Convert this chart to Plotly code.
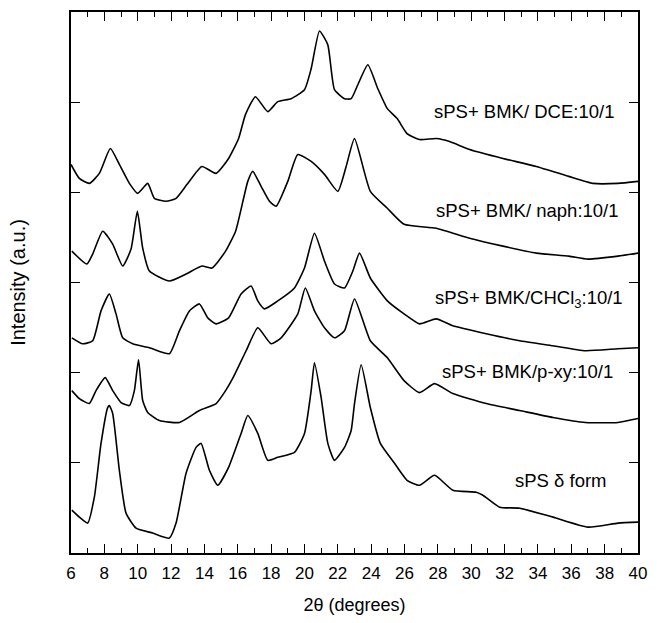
import plotly.graph_objects as go

# 2-theta positions and intensities (a.u., curves already offset vertically)
x_dce = [6.0, 6.5, 7.1, 7.7, 8.36, 8.9, 9.5, 10.0, 10.6, 11.0, 11.7, 12.3, 12.96, 13.85, 14.7,
         15.45, 16.05, 16.46, 17.06, 17.8, 18.4, 19.2, 20.0, 20.4, 20.9, 21.4, 21.8, 22.4, 22.8,
         23.2, 23.8, 24.4, 24.97, 25.56, 26.15, 26.9, 27.9, 28.7, 29.9, 31.9, 33.9, 35.85, 37.3,
         38.8, 40.0]
y_dce = [390, 376, 371, 381, 406, 390, 371, 361, 371, 356, 353, 356, 370, 388, 381,
         396, 416, 440, 458, 443, 453, 456, 465, 486, 524, 510, 465, 456, 456,
         470, 490, 466, 446, 436, 421, 415, 416, 413, 405, 396, 388, 378, 371,
         371, 373]

x_naph = [6.05, 6.95, 7.3, 7.9, 8.5, 9.1, 9.6, 9.98, 10.3, 10.7, 11.9, 12.9, 13.85, 14.45,
          15.27, 15.87, 16.35, 16.6, 16.9, 17.4, 17.9, 18.3, 19.0, 19.6, 20.4, 21.2, 22.0,
          22.5, 23.0, 23.95, 24.97, 25.97, 27.9, 29.9, 31.9, 33.9, 35.85, 37.0, 38.8, 40.0]
y_naph = [303, 290, 300, 323, 310, 288, 305, 343, 306, 283, 273, 280, 288, 286,
          303, 323, 356, 373, 383, 368, 353, 348, 373, 400, 393, 380, 363,
          388, 416, 363, 346, 330, 326, 316, 308, 301, 298, 295, 298, 301]

x_chcl3 = [6.05, 6.7, 7.3, 7.8, 8.3, 8.7, 9.1, 9.7, 10.7, 11.9, 12.5, 13.1, 13.7, 14.2, 14.7,
           15.45, 16.2, 16.8, 17.2, 17.6, 18.4, 19.4, 20.0, 20.6, 21.2, 21.8, 22.4, 22.9, 23.3,
           23.95, 24.97, 25.97, 26.9, 27.9, 28.9, 30.9, 32.9, 34.9, 36.85, 38.8, 40.0]
y_chcl3 = [216, 210, 213, 243, 260, 240, 216, 210, 206, 200, 223, 243, 250, 236, 230,
           236, 260, 268, 253, 245, 253, 266, 286, 321, 293, 270, 266, 283, 301,
           276, 253, 240, 230, 235, 228, 220, 213, 208, 203, 205, 206]

x_pxy = [6.05, 6.5, 7.1, 7.5, 8.05, 8.5, 9.0, 9.5, 9.8, 10.05, 10.3, 10.6, 11.3, 12.5, 13.7,
         14.7, 15.27, 15.75, 16.5, 17.2, 18.0, 18.6, 19.6, 20.05, 20.6, 21.2, 21.8, 22.4, 23.0,
         23.95, 24.97, 25.97, 26.9, 27.8, 28.9, 30.9, 32.9, 34.9, 36.85, 38.8, 40.0]
y_pxy = [163, 155, 150, 163, 176, 163, 151, 148, 163, 194, 153, 141, 133, 131, 143,
         150, 163, 177, 203, 226, 210, 216, 240, 266, 243, 226, 216, 223, 255,
         213, 196, 173, 161, 170, 160, 150, 143, 136, 131, 131, 135]

x_delta = [6.05, 6.5, 7.0, 7.4, 7.8, 8.2, 8.3, 8.5, 8.9, 9.3, 9.9, 10.9, 11.9, 12.3, 12.9,
           13.5, 13.8, 14.3, 14.8, 15.45, 16.2, 16.6, 17.2, 17.8, 18.4, 19.4, 20.0, 20.4, 20.6,
           21.0, 21.4, 21.8, 22.4, 22.8, 23.0, 23.4, 23.95, 24.55, 25.4, 26.15, 26.9, 27.8,
           28.9, 30.3, 30.7, 31.7, 32.9, 34.9, 37.0, 38.8, 40.0]
y_delta = [43, 36, 30, 56, 110, 146, 148, 140, 83, 40, 25, 20, 15, 30, 80,
           106, 110, 83, 68, 86, 120, 138, 120, 93, 96, 101, 120, 163, 191,
           156, 110, 93, 106, 123, 150, 189, 146, 110, 90, 73, 68, 78,
           63, 61, 58, 46, 45, 36, 26, 30, 31]

series = [
    (x_dce, y_dce),
    (x_naph, y_naph),
    (x_chcl3, y_chcl3),
    (x_pxy, y_pxy),
    (x_delta, y_delta),
]

# curve labels: text, x, y
labels = ["sPS+ BMK/ DCE:10/1", "sPS+ BMK/ naph:10/1", "sPS+ BMK/CHCl<sub>3</sub>:10/1",
          "sPS+ BMK/p-xy:10/1", "sPS δ form"]
label_x = [33.17, 33.35, 33.47, 33.39, 35.37]
label_y = [443, 344, 255, 182, 73]

x_ticks = list(range(6, 41, 2))
y_max = 543
y_ticks = [i * y_max / 6 for i in range(7)]

fig = go.Figure()
for xs, ys in series:
    fig.add_trace(go.Scatter(
        x=xs, y=ys, mode="lines",
        line=dict(color="black", width=1.6, shape="spline", smoothing=0.5),
        showlegend=False, hoverinfo="skip",
    ))

for text, lx, ly in zip(labels, label_x, label_y):
    fig.add_annotation(x=lx, y=ly, xref="x", yref="y", text=text, showarrow=False,
                       font=dict(family="Arial", size=18.5, color="black"))

axis_common = dict(
    showline=True, linecolor="black", linewidth=1.5, mirror="allticks",
    ticks="inside", tickcolor="black", tickwidth=1.3, ticklen=9,
    showgrid=False, zeroline=False,
)

fig.update_xaxes(
    range=[6, 40], tickvals=x_ticks,
    minor=dict(ticks="inside", ticklen=5, dtick=1, tick0=6, tickcolor="black", tickwidth=1.3),
    tickfont=dict(family="Arial", size=17, color="black"), ticklabelstandoff=4,
    title=dict(text="2θ (degrees)", font=dict(family="Arial", size=18, color="black"), standoff=16),
    **axis_common,
)
fig.update_yaxes(
    range=[0, y_max], tickvals=y_ticks, showticklabels=False,
    title=dict(text="Intensity (a.u.)", font=dict(family="Arial", size=20, color="black"), standoff=38),
    **axis_common,
)

fig.update_layout(
    width=657, height=623,
    margin=dict(l=71, r=14, t=10, b=70),
    paper_bgcolor="white", plot_bgcolor="white",
)

fig.write_html("out.html")
